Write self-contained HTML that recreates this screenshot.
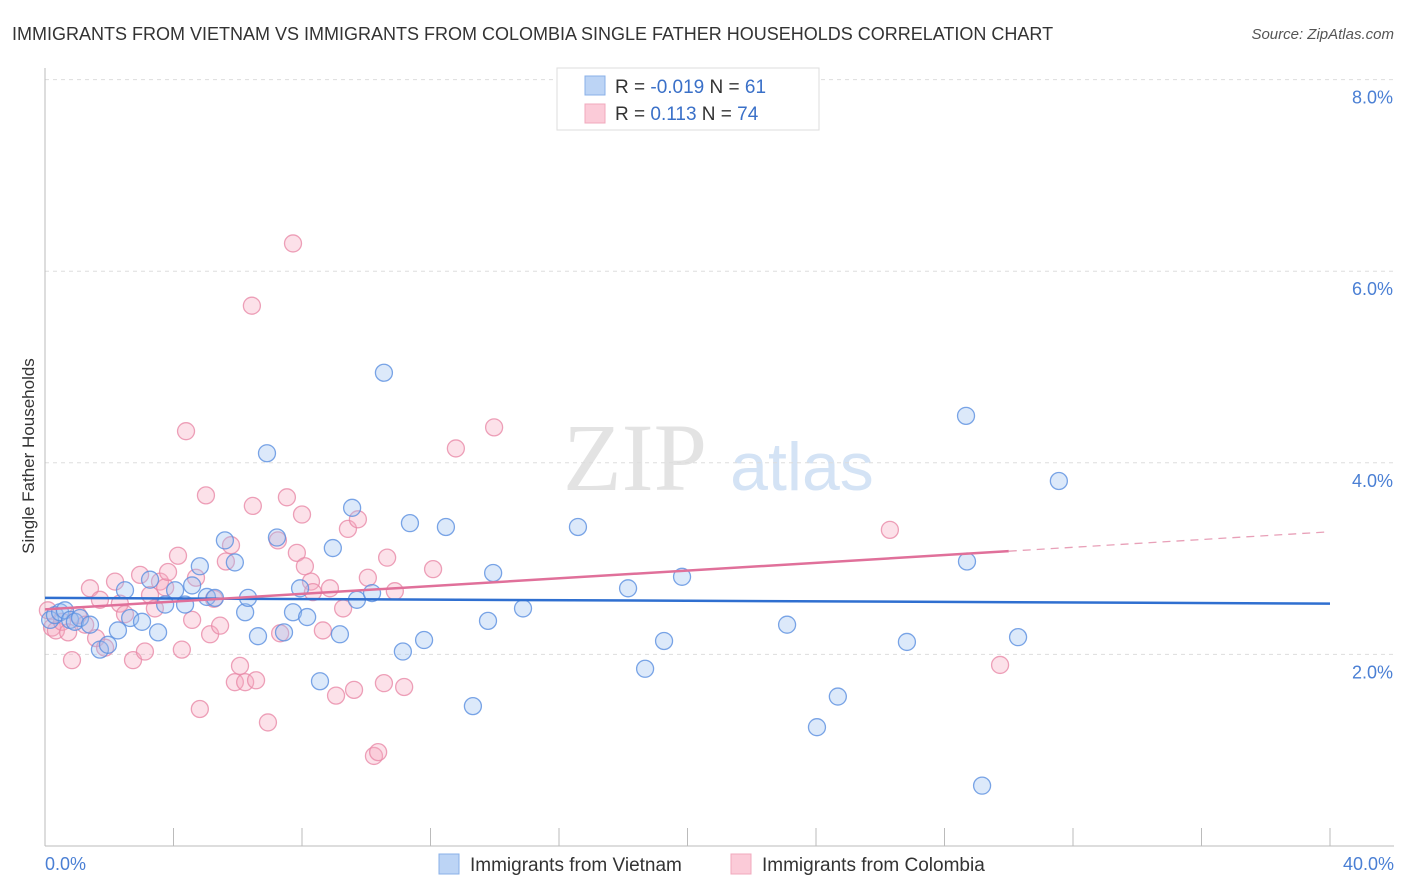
<!DOCTYPE html>
<html><head><meta charset="utf-8"><style>
body{margin:0;background:#fff;font-family:"Liberation Sans",sans-serif;}
svg{display:block}
</style></head><body>
<svg id="chart" width="1406" height="892">
<text x="12" y="40" font-size="18" fill="#333">IMMIGRANTS FROM VIETNAM VS IMMIGRANTS FROM COLOMBIA SINGLE FATHER HOUSEHOLDS CORRELATION CHART</text>
<text x="1394" y="39" font-size="15" fill="#555" font-style="italic" text-anchor="end">Source: ZipAtlas.com</text>
<g>
<text x="635" y="490" font-size="96" font-family="Liberation Serif,serif" fill="#e3e3e3" text-anchor="middle">ZIP</text>
<text x="802" y="490" font-size="68" fill="#d4e3f5" text-anchor="middle">atlas</text>
</g>
<g id="grid"></g>
<g id="axes"></g>
<g id="marks"></g>
<g id="trends"></g>
<text transform="translate(34,456) rotate(-90)" font-size="17" fill="#333" text-anchor="middle">Single Father Households</text>
<text x="45" y="870" font-size="18" fill="#4a7fd4">0.0%</text>
<text x="1394" y="870" font-size="18" fill="#4a7fd4" text-anchor="end">40.0%</text>
<g>
<rect x="557" y="68" width="262" height="62" fill="#fff" stroke="#ddd"/>
<rect x="585" y="76" width="20" height="19" fill="#bcd4f5" stroke="#8ab0e8"/>
<rect x="585" y="104" width="20" height="19" fill="#fbcbd8" stroke="#f0a8bd"/>
<text x="615" y="93" font-size="19" fill="#333">R = <tspan fill="#3a70c8">-0.019</tspan>   N =  <tspan fill="#3a70c8">61</tspan></text>
<text x="615" y="120" font-size="19" fill="#333">R =    <tspan fill="#3a70c8">0.113</tspan>   N = <tspan fill="#3a70c8">74</tspan></text>
</g>
<g>
<rect x="439" y="854" width="20" height="20" fill="#bcd4f5" stroke="#8ab0e8"/>
<text x="470" y="871" font-size="19" fill="#333">Immigrants from Vietnam</text>
<rect x="731" y="854" width="20" height="20" fill="#fbcbd8" stroke="#f0a8bd"/>
<text x="762" y="871" font-size="19" fill="#333">Immigrants from Colombia</text>
</g>
</svg>
<script>
const yTicks=[2,4,6,8];
const yTickLabels=["2.0%","4.0%","6.0%","8.0%"];
const xTicks=[4,8,12,16,20,24,28,32,36,40];
const blueX=[0.16,0.31,0.47,0.62,0.78,0.93,1.09,1.40,1.71,1.96,2.27,2.49,2.65,3.02,3.27,3.52,3.74,4.05,4.36,4.58,4.82,5.04,5.29,5.60,5.91,6.23,6.32,6.63,6.91,7.22,7.44,7.72,7.94,8.16,8.56,8.96,9.18,9.56,9.71,10.18,10.55,11.14,11.36,11.80,12.48,13.32,13.79,13.95,14.88,16.59,18.15,18.68,19.27,19.83,23.10,24.03,24.68,26.83,28.67,28.70,29.17,30.29,31.56];
const blueY=[2.36,2.41,2.44,2.46,2.36,2.34,2.38,2.31,2.05,2.10,2.25,2.67,2.38,2.34,2.78,2.23,2.52,2.67,2.52,2.72,2.92,2.60,2.59,3.19,2.96,2.44,2.59,2.19,4.10,3.22,2.23,2.44,2.69,2.39,1.72,3.11,2.21,3.53,2.57,2.64,4.94,2.03,3.37,2.15,3.33,1.46,2.35,2.85,2.48,3.33,2.69,1.85,2.14,2.81,2.31,1.24,1.56,2.13,4.49,2.97,0.63,2.18,3.81];
const pinkX=[0.09,0.22,0.34,0.53,0.72,0.84,1.03,1.25,1.40,1.59,1.71,1.87,2.18,2.33,2.49,2.74,2.96,3.11,3.27,3.42,3.58,3.74,3.83,4.14,4.26,4.39,4.58,4.70,4.82,5.01,5.14,5.26,5.45,5.63,5.79,5.91,6.07,6.23,6.44,6.47,6.57,6.94,7.25,7.32,7.53,7.72,7.84,8.00,8.09,8.28,8.34,8.65,8.87,9.06,9.28,9.43,9.62,9.74,10.05,10.24,10.37,10.55,10.65,10.89,11.18,12.08,12.79,13.98,26.30,29.73];
const pinkY=[2.46,2.28,2.25,2.34,2.23,1.94,2.41,2.31,2.69,2.17,2.57,2.07,2.76,2.53,2.42,1.94,2.83,2.03,2.62,2.48,2.76,2.70,2.86,3.03,2.05,4.33,2.36,2.80,1.43,3.66,2.21,2.58,2.30,2.97,3.14,1.71,1.88,1.71,5.64,3.55,1.73,1.29,3.19,2.22,3.64,6.29,3.06,3.46,2.92,2.76,2.65,2.25,2.69,1.57,2.48,3.31,1.63,3.41,2.80,0.94,0.98,1.70,3.01,2.66,1.66,2.89,4.15,4.37,3.30,1.89];
const blueTrend=[2.59,2.53];
const pinkTrend=[2.47,3.28];
const pinkSolidEnd=30;

const X0=45,X1=1330,Y0=846,PX=95.8;
const sx=v=>X0+(X1-X0)*v/40;
const sy=v=>Y0-v*PX;
const NS="http://www.w3.org/2000/svg";
function mk(tag,attrs,parent){const e=document.createElementNS(NS,tag);for(const k in attrs)e.setAttribute(k,attrs[k]);parent.appendChild(e);return e;}
const grid=document.getElementById('grid'),axes=document.getElementById('axes'),marks=document.getElementById('marks'),trends=document.getElementById('trends');
yTicks.forEach((t,i)=>{
 const l=mk('line',{x1:X0,x2:1394,y1:sy(t),y2:sy(t),stroke:'#ddd','stroke-dasharray':'4,4'},grid);
 
 
 const tx=mk('text',{x:1393,y:sy(t)+24,'font-size':18,fill:'#4a7fd4','text-anchor':'end'},axes);
 tx.textContent=yTickLabels[i];
 
 
});
const yl=mk('line',{x1:X0,x2:X0,y1:68,y2:Y0,stroke:'#bbb'},axes);


const xl=mk('line',{x1:X0,x2:1394,y1:Y0,y2:Y0,stroke:'#bbb'},axes);


xTicks.forEach(t=>{
 const l=mk('line',{x1:sx(t),x2:sx(t),y1:828,y2:Y0,stroke:'#bbb'},axes);
 
 
});
function dots(xs,ys,fill,stroke,name){
 xs.forEach((x,i)=>{
  const c=mk('circle',{cx:sx(x),cy:sy(ys[i]),r:8.5,fill:fill,'fill-opacity':0.35,stroke:stroke,'stroke-width':1.3,'stroke-opacity':0.8},marks);
  
  
 });
}
dots(pinkX,pinkY,'#f5a8c0','#e88aa8','colombia-point');
dots(blueX,blueY,'#9cc0f0','#5a8ee0','vietnam-point');
const bt=mk('line',{x1:sx(0),x2:sx(40),y1:sy(blueTrend[0]),y2:sy(blueTrend[1]),stroke:'#2f6fd0','stroke-width':2.5},trends);


const pm=pinkTrend[0]+(pinkTrend[1]-pinkTrend[0])*pinkSolidEnd/40;
const pt=mk('line',{x1:sx(0),x2:sx(pinkSolidEnd),y1:sy(pinkTrend[0]),y2:sy(pm),stroke:'#e0709a','stroke-width':2.5},trends);


const pd=mk('line',{x1:sx(pinkSolidEnd),x2:sx(40),y1:sy(pm),y2:sy(pinkTrend[1]),stroke:'#e8a0b8','stroke-width':1.3,'stroke-dasharray':'8,6'},trends);


</script>
</body></html>
